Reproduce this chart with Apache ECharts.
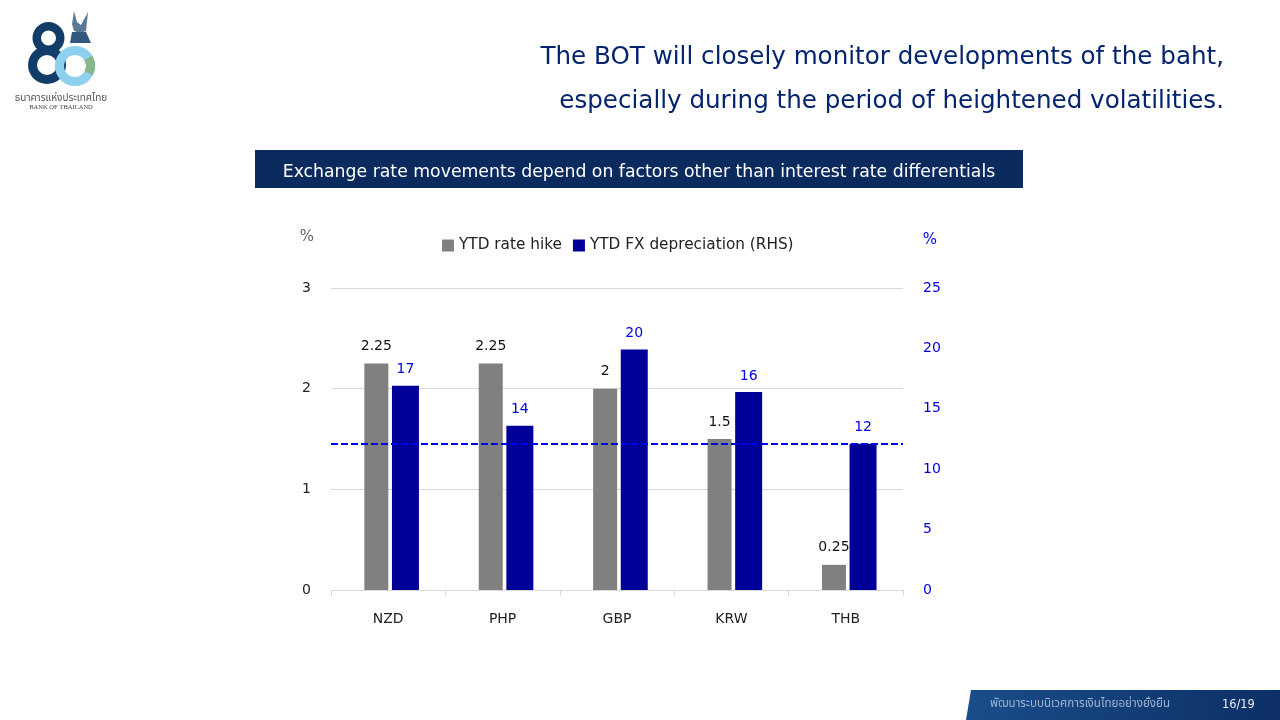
<!DOCTYPE html>
<html lang="en">
<head>
<meta charset="UTF-8">
<title>BOT exchange rate chart</title>
<style>
    html,body{margin:0;padding:0;width:100%;height:100%;background:#fff;}
    #chart{width:1280px;height:720px;}
</style>
</head>
<body>
<div id="chart"></div>
<script src="https://cdn.jsdelivr.net/npm/echarts@6/dist/echarts.min.js"></script>
<script type="text/javascript">
var categories = ['NZD', 'PHP', 'GBP', 'KRW', 'THB'];
var rateHike = [2.25, 2.25, 2, 1.5, 0.25];
var fxDepreciation = [16.9, 13.6, 19.9, 16.4, 12.1];
var fxLabels = ['17', '14', '20', '16', '12'];
var thbLevel = 12.1;

var navy = '#04246e';
var fontName = 'DejaVu Sans';
var myChart = echarts.init(document.getElementById('chart'), null, {renderer: 'canvas'});

function txt(x, y, text, size, color, align, font) {
    return {
        type: 'text', x: x, y: y, silent: true,
        style: {text: text, fontSize: size, fill: color, align: align || 'left', verticalAlign: 'middle', fontFamily: font || fontName}
    };
}
function ring(cx, cy, r, r0, color, opacity) {
    return {type: 'ring', silent: true, shape: {cx: cx, cy: cy, r: r, r0: r0}, style: {fill: color, opacity: opacity === undefined ? 1 : opacity}};
}
function poly(points, color) {
    return {type: 'polygon', silent: true, shape: {points: points}, style: {fill: color}};
}

var option = {
    backgroundColor: '#fff',
    animation: false,
    textStyle: {fontFamily: fontName},
    legend: {
        data: ['YTD rate hike', 'YTD FX depreciation (RHS)'],
        left: 442, top: 238, padding: 0,
        icon: 'rect',
        itemWidth: 12, itemHeight: 12, itemGap: 11,
        textStyle: {fontSize: 15.3, color: '#222', fontFamily: fontName}
    },
    grid: {left: 331, right: 377, top: 288, bottom: 130},
    xAxis: {
        type: 'category',
        data: categories,
        axisLine: {lineStyle: {color: '#d9d9d9'}},
        axisTick: {show: true, length: 6, lineStyle: {color: '#d9d9d9'}},
        axisLabel: {fontSize: 14, color: '#222', margin: 22}
    },
    yAxis: [
        {
            type: 'value', min: 0, max: 3, interval: 1, name: '%',
            nameLocation: 'end', nameGap: 43,
            nameTextStyle: {fontSize: 15, color: '#666', padding: [0, 48, 0, 0]},
            axisLine: {show: false}, axisTick: {show: false},
            axisLabel: {fontSize: 14, color: '#222', margin: 20},
            splitLine: {lineStyle: {color: '#d9d9d9'}}
        },
        {
            type: 'value', min: 0, max: 25, interval: 5, name: '%',
            nameLocation: 'end', nameGap: 40,
            nameTextStyle: {fontSize: 15, color: '#0000e0', padding: [0, 0, 0, 54]},
            axisLine: {show: false}, axisTick: {show: false},
            axisLabel: {fontSize: 14, color: '#0000e0', margin: 20},
            splitLine: {show: false}
        }
    ],
    series: [
        // empty bar, pushes the pair right so the grey bar ends on the category centre
        {name: 'spacer', type: 'bar', data: [], barWidth: 6, barGap: '15%'},
        {
            name: 'YTD rate hike', type: 'bar', data: rateHike, barWidth: 24, barGap: '15%',
            itemStyle: {color: '#808080'},
            label: {show: true, position: 'top', distance: 10, fontSize: 14, color: '#111'}
        },
        {
            name: 'YTD FX depreciation (RHS)', type: 'bar', yAxisIndex: 1, data: fxDepreciation, barWidth: 27, barGap: '15%',
            itemStyle: {color: '#000099'},
            label: {
                show: true, position: 'top', distance: 9, fontSize: 14, color: '#0000e0',
                formatter: function (p) { return fxLabels[p.dataIndex]; }
            },
            markLine: {
                silent: true, symbol: 'none', label: {show: false},
                lineStyle: {color: '#0000f0', type: [7, 3], width: 2},
                data: [{yAxis: thbLevel}]
            }
        }
    ],
    graphic: [
        // logo
        ring(48.5, 38, 16, 7.5, '#123d68'),
        ring(47, 65, 19, 10, '#123d68'),
        ring(75, 66, 20, 11, '#6cc4ea'),
        {type: 'sector', silent: true, shape: {cx: 75, cy: 66, r: 20, r0: 11, startAngle: -0.55, endAngle: 0.5}, style: {fill: '#5f9f52'}},
        ring(75, 66, 20, 11, '#cfeaf5', 0.35),
        poly([[74, 11], [77, 22], [81, 25], [88, 12], [86, 31], [80, 33], [74, 31], [72, 24]], '#5a7a96'),
        poly([[70, 43], [72, 32], [86, 32], [91, 43]], '#33587e'),
        txt(61, 98.5, 'ธนาคารแห่งประเทศไทย', 10, '#555', 'center', 'Noto Sans Thai, Noto Sans'),
        txt(61, 107, 'BANK OF THAILAND', 6.5, '#444', 'center', 'Liberation Serif'),
        // title
        txt(1224, 58, 'The BOT will closely monitor developments of the baht,', 24.6, navy, 'right'),
        txt(1224, 102, 'especially during the period of heightened volatilities.', 24.6, navy, 'right'),
        // banner
        {type: 'rect', silent: true, shape: {x: 255, y: 150, width: 768, height: 38}, style: {fill: '#0b2a5e'}},
        txt(639, 173, 'Exchange rate movements depend on factors other than interest rate differentials', 17.3, '#fff', 'center'),
        // footer
        {
            type: 'polygon', silent: true,
            shape: {points: [[966, 720], [971, 690], [1280, 690], [1280, 720]]},
            style: {fill: new echarts.graphic.LinearGradient(0, 0, 1, 0, [{offset: 0, color: '#1a4d8a'}, {offset: 1, color: '#0c2f66'}])}
        },
        txt(990, 705, 'พัฒนาระบบนิเวศการเงินไทยอย่างยั่งยืน', 11.6, '#9db4d2', 'left', 'Noto Sans Thai, Noto Sans'),
        txt(1222, 705, '16/19', 11.4, '#e8eef6', 'left')
    ]
};

myChart.setOption(option);
</script>
</body>
</html>
